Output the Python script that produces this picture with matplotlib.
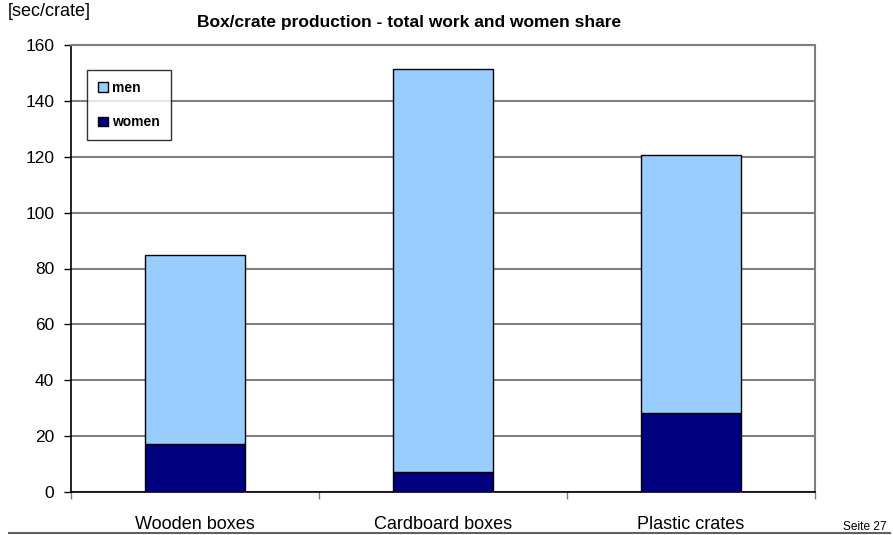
import matplotlib.pyplot as plt
import matplotlib.patches as mpatches
from matplotlib.lines import Line2D
import numpy as np

plt.rcParams['font.family'] = ['Liberation Sans', 'DejaVu Sans']

categories = ['Wooden boxes', 'Cardboard boxes', 'Plastic crates']
women = [17.2, 7.2, 28.2]
total = [84.9, 151.3, 120.6]
men = [t - w for t, w in zip(total, women)]

fig = plt.figure(figsize=(8.93, 5.35), dpi=100)
ax = fig.add_axes([71 / 893, 1 - 492 / 535, 744 / 893, 447 / 535])

x = np.arange(len(categories))
ax.bar(x, women, width=0.4, color='#000080', edgecolor='black', linewidth=1, zorder=3)
ax.bar(x, men, width=0.4, bottom=women, color='#99ccff', edgecolor='black', linewidth=1, zorder=3)

ax.set_xlim(-0.5, 2.5)
ax.set_ylim(0, 160)
ax.set_yticks(np.arange(0, 161, 20))
ax.yaxis.grid(True, color='#808080', linewidth=1.5, zorder=0)
ax.set_axisbelow(True)

# category labels sit between the ticks at the group boundaries
ax.set_xticks([-0.5, 0.5, 1.5, 2.5])
ax.set_xticklabels([])
ax.set_xticks(x, minor=True)
ax.set_xticklabels(categories, minor=True, fontsize=13)
ax.tick_params(axis='x', which='minor', length=0, pad=17)
ax.tick_params(axis='x', which='major', direction='out', length=5, width=1, color='#808080')
ax.tick_params(axis='y', direction='out', length=5, width=1, labelsize=12.5, pad=7)

for side in ['top', 'right']:
    ax.spines[side].set_color('#808080')
    ax.spines[side].set_linewidth(1.5)
ax.spines['left'].set_linewidth(1.2)
ax.spines['bottom'].set_linewidth(1.2)

handles = [mpatches.Patch(facecolor='#99ccff', edgecolor='black', label='men'),
           mpatches.Patch(facecolor='#000080', edgecolor='black', label='women')]
leg = ax.legend(handles=handles, loc='upper left', bbox_to_anchor=(0.0215, 0.944),
                prop={'weight': 'bold', 'size': 10}, frameon=True, fancybox=False,
                edgecolor='black', handlelength=0.7, handleheight=0.7, handletextpad=0.3,
                labelspacing=1.45, borderpad=0.8, borderaxespad=0)
leg.get_frame().set_linewidth(1)
leg.set_zorder(5)

fig.text(8 / 893, 1 - 12 / 535, '[sec/crate]', fontsize=13, va='center', ha='left')
fig.text(409 / 893, 1 - 23 / 535, 'Box/crate production - total work and women share',
         fontsize=12.5, fontweight='bold', ha='center', va='center')
fig.text(887 / 893, 1 - 527 / 535, 'Seite 27', fontsize=8.6, ha='right', va='center')
fig.add_artist(Line2D([9 / 893, 890 / 893], [1 - 533 / 535] * 2, color='#606060', linewidth=1.5))

fig.savefig('out.png', dpi=100)
